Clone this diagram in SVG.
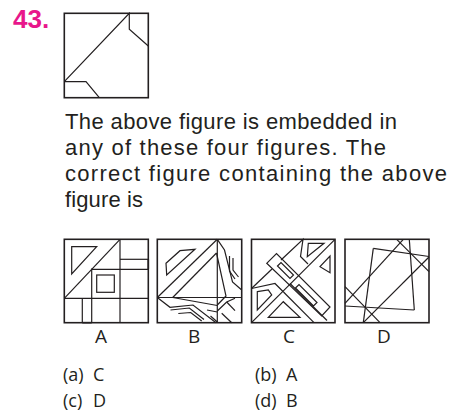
<svg xmlns="http://www.w3.org/2000/svg" width="453" height="417" viewBox="0 0 453 417">
<style>
.t{font-family:"Open Sans","Liberation Sans",sans-serif;fill:#231f20}
.p{font-family:"Liberation Sans",Arial,sans-serif;fill:#231f20}
.bx{fill:none;stroke:#231f20;stroke-width:1.6}
.ln{fill:none;stroke:#231f20;stroke-width:1.2;stroke-linejoin:miter}
</style>
<rect width="453" height="417" fill="#fff"/>
<text x="13" y="28" font-family="Liberation Sans,Arial,sans-serif" font-weight="bold" font-size="26" fill="#e8168b">43.</text>
<g id="question-figure">
<rect class="bx" x="64.3" y="13.3" width="84" height="84.4"/>
<polyline class="ln" points="64.3,81.7 129.3,13.3 129.3,29.3 148.3,46"/>
<polyline class="ln" points="64.3,81.7 86,81.7 99.3,97.7"/>
</g>
<g id="question-text" class="p" font-size="22">
<text x="65" y="129" textLength="332" lengthAdjust="spacing">The above figure is embedded in</text>
<text x="65" y="155" textLength="321" lengthAdjust="spacing">any of these four figures. The</text>
<text x="65" y="181" textLength="382" lengthAdjust="spacing">correct figure containing the above</text>
<text x="65" y="207" textLength="78" lengthAdjust="spacing">figure is</text>
</g>
<g id="option-A">
<rect class="bx" x="64.3" y="239.3" width="84" height="83.4"/>
<line class="ln" x1="64.3" y1="298.3" x2="120" y2="239.3"/>
<line class="ln" x1="64.3" y1="298.3" x2="148.3" y2="298.3"/>
<line class="ln" x1="120" y1="239.3" x2="120" y2="322.7"/>
<polygon class="ln" points="71.7,246.7 96.7,246.7 71.7,274"/>
<polyline class="ln" points="120,259.3 148.3,259.3"/>
<polyline class="ln" points="91.7,269.3 148.3,269.3"/>
<line class="bx" x1="148.3" y1="259.3" x2="148.3" y2="269.3" stroke-width="2.2"/>
<line class="ln" x1="91.7" y1="268.5" x2="91.7" y2="322.7"/>
<rect class="ln" x="96.7" y="275" width="17.6" height="17.3"/>
<line class="ln" x1="82.3" y1="298.3" x2="82.3" y2="322.7"/>
<line class="bx" x1="82.3" y1="322.7" x2="91.7" y2="322.7" stroke-width="2.2"/>
<text class="t" x="95" y="343" font-size="19">A</text>
</g>
<g id="option-B">
<rect class="bx" x="157.3" y="239.3" width="84.4" height="83.4"/>
<line class="ln" x1="157.3" y1="297.5" x2="217.3" y2="239.3"/>
<line class="ln" x1="157.3" y1="297.5" x2="241.7" y2="297.5"/>
<line class="ln" x1="217.3" y1="239.3" x2="217.3" y2="322.7"/>
<polygon class="ln" points="166,263.3 180,250.7 195,249.3 166.7,275"/>
<line class="ln" x1="172.7" y1="297.5" x2="216.5" y2="253"/>
<polyline class="ln" points="216.5,253 226,296 217.3,305"/>
<line class="ln" x1="172.7" y1="297.5" x2="217.3" y2="305.5"/>
<polyline class="ln" points="217.3,239.3 224.5,250 232.5,282 241.7,290"/>
<polyline class="ln" points="229.5,256 229.5,271 235,279"/>
<polyline class="ln" points="233,258 233,270 238.5,277"/>
<polyline class="ln" points="157.3,297.5 170,307.3 193,305 216,322.7"/>
<polyline class="ln" points="170.5,310 189.3,308 204,319.5"/>
<polyline class="ln" points="178.3,313.5 190.7,312.5 201.7,321"/>
<polyline class="ln" points="217.3,311 226.7,302 235,298.3"/>
<line class="ln" x1="226.7" y1="302" x2="235" y2="310.7"/>
<line class="ln" x1="221.7" y1="313.3" x2="231.7" y2="322.7"/>
<line class="ln" x1="207" y1="310" x2="217.3" y2="312"/>
<line class="ln" x1="210.5" y1="316" x2="217.3" y2="322"/>
<text class="t" x="188" y="343" font-size="19">B</text>
</g>
<g id="option-C">
<rect class="bx" x="251.5" y="239.3" width="83.5" height="83.4"/>
<line class="ln" x1="251.5" y1="322.7" x2="335" y2="239.3"/>
<polyline class="ln" points="251.5,288.5 272,269 "/>
<polyline class="ln" points="281,260 303,239.3 300.5,256.5 308,264"/>
<polyline class="ln" points="251.5,288.5 275,283.5 283.5,292"/>
<polygon class="ln" points="266.7,263.3 276.5,253.5 330,307 321.7,316"/>
<polygon class="ln" points="277.5,266 281,262.5 293.5,275 290,278.5"/>
<polygon class="ln" points="295.5,288 299,284.5 317,302.5 313.5,306"/>
<line class="ln" x1="283.5" y1="292" x2="314" y2="322.7"/>
<line class="ln" x1="290" y1="283.5" x2="327" y2="320.5"/>
<polygon class="ln" points="308.3,243.3 324,243.3 307.3,256.7"/>
<polygon class="ln" points="330,256 330,272.7 320,266.7"/>
<polygon class="ln" points="257.3,291.7 268.3,290 271.7,295 257.3,310"/>
<polygon class="ln" points="268.3,317.3 283.3,301.7 300,317.3"/>
<text class="t" x="283" y="343" font-size="19">C</text>
</g>
<g id="option-D">
<rect class="bx" x="345" y="239.3" width="84" height="83.4"/>
<line class="ln" x1="373.3" y1="248.3" x2="429" y2="256.5"/>
<line class="ln" x1="409.3" y1="239.3" x2="414.3" y2="310"/>
<line class="ln" x1="345" y1="306" x2="414.3" y2="310"/>
<line class="ln" x1="373.3" y1="248.3" x2="363.3" y2="322.7"/>
<line class="ln" x1="345" y1="303.3" x2="403.3" y2="239.3"/>
<line class="ln" x1="363.3" y1="322.7" x2="429" y2="257"/>
<line class="ln" x1="396.7" y1="239.3" x2="429" y2="271.7"/>
<line class="ln" x1="345" y1="286.7" x2="380" y2="322.7"/>
<text class="t" x="377" y="343" font-size="19">D</text>
</g>
<g id="answers" class="t" font-size="18">
<text x="63" y="381">(a)</text><text x="93" y="381">C</text>
<text x="255" y="381">(b)</text><text x="286" y="381">A</text>
<text x="63" y="407">(c)</text><text x="93" y="407">D</text>
<text x="255" y="407">(d)</text><text x="286" y="407">B</text>
</g>
</svg>
